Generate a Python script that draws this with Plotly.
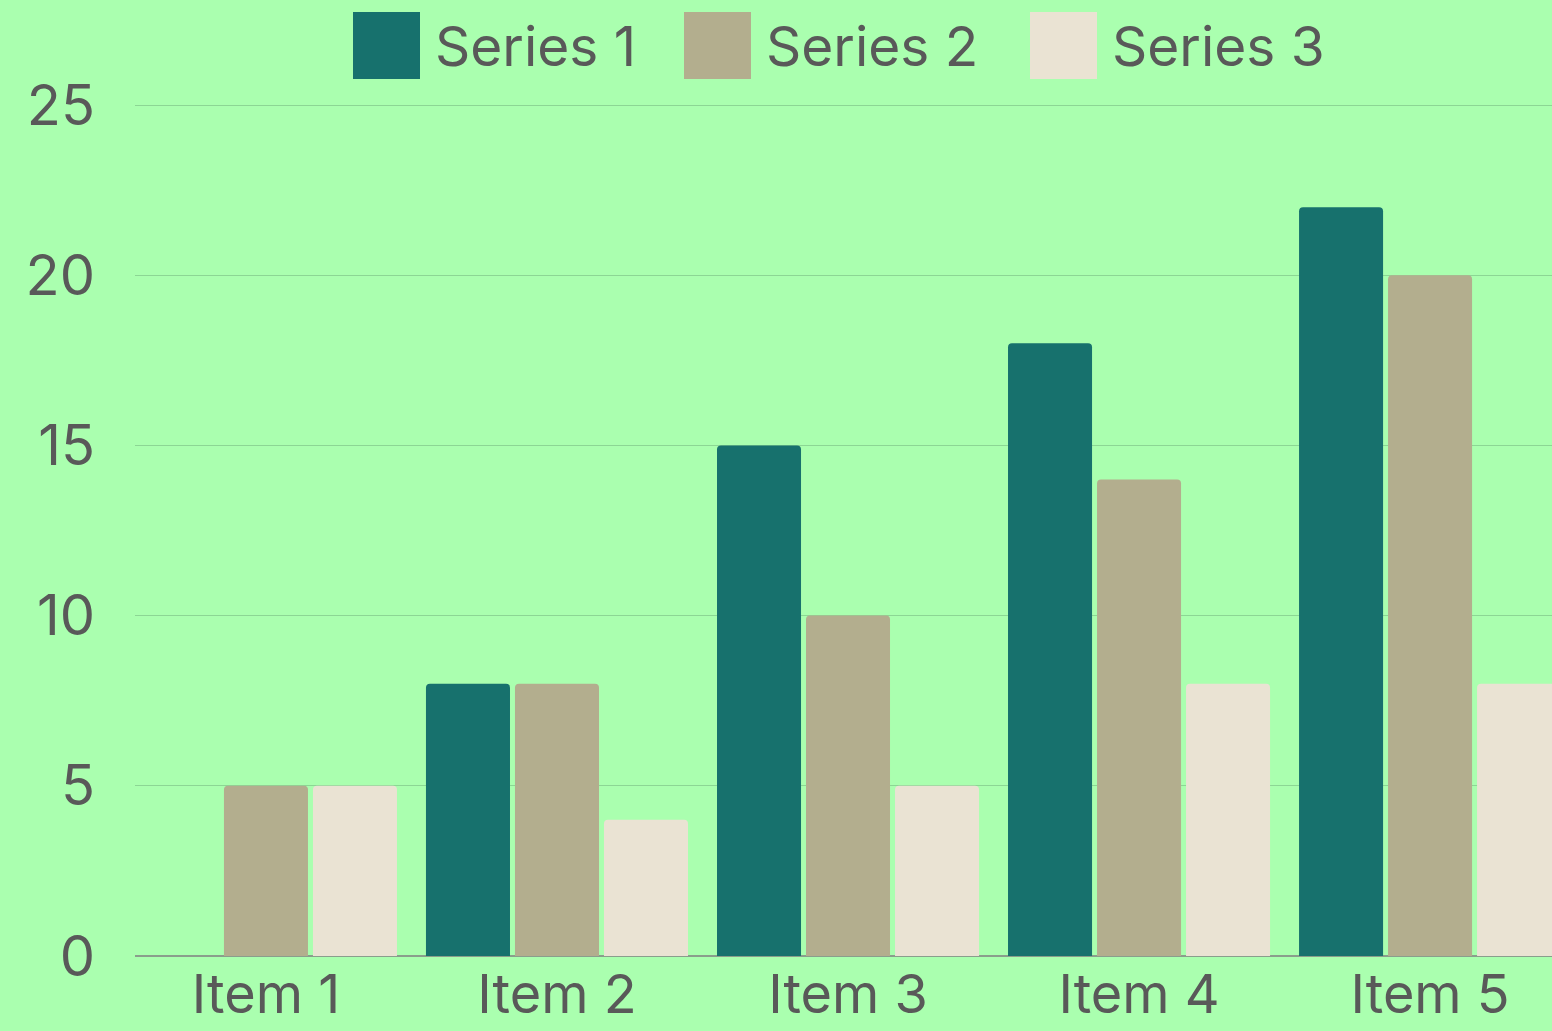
import plotly.graph_objects as go

categories = ["Item 1", "Item 2", "Item 3", "Item 4", "Item 5"]
series_names = ["Series 1", "Series 2", "Series 3"]
series1 = [0, 8, 15, 18, 22]
series2 = [5, 8, 10, 14, 20]
series3 = [5, 4, 5, 8, 8]
colors = ["#17716D", "#B3AE8E", "#EAE3D3"]
y_ticks = [0, 5, 10, 15, 20, 25]

FONT = "Inter"
TXT = "#595959"
BG = "#AAFFAF"
W, H = 1552, 1031
L, R, T, B = 135, 0, 104, 75

fig = go.Figure()
for name, vals, c in zip(series_names, [series1, series2, series3], colors):
    fig.add_trace(go.Bar(x=categories, y=vals, name=name, marker=dict(color=c, line=dict(width=0)),
                         showlegend=False))

# custom legend (large square swatches)
pw, ph = W - L - R, H - T - B
def px_x(p): return (p - L) / pw
def px_y(p): return (H - B - p) / ph
sw_left = [353, 684, 1030]
for name, c, x0 in zip(series_names, colors, sw_left):
    fig.add_shape(type="rect", xref="paper", yref="paper",
                  x0=px_x(x0), x1=px_x(x0 + 67), y0=px_y(79), y1=px_y(12),
                  fillcolor=c, line=dict(width=0), layer="above")
    fig.add_annotation(xref="paper", yref="paper", x=px_x(x0 + 80), y=px_y(46),
                       xanchor="left", yanchor="middle", text=name, showarrow=False,
                       font=dict(family=FONT, size=55, color=TXT))

fig.update_layout(
    width=W, height=H,
    margin=dict(l=L, r=R, t=T, b=B, pad=0, autoexpand=False),
    paper_bgcolor=BG, plot_bgcolor=BG,
    barmode="group", bargap=0.0825, bargroupgap=0.056, barcornerradius=4,
    font=dict(family=FONT, color=TXT, size=55),
    xaxis=dict(range=[-0.45, 4.419], showgrid=False, showline=False, zeroline=False, automargin=False,
               ticks="", ticklabelstandoff=2, tickfont=dict(size=54, color=TXT)),
    yaxis=dict(range=[0, 25.03], tickvals=y_ticks, showgrid=True, gridcolor="#8CD694", gridwidth=1,
               zeroline=True, zerolinecolor="#8A9E8C", zerolinewidth=1.5, showline=False, automargin=False,
               ticks="", ticklabelstandoff=39, tickfont=dict(size=56, color=TXT)),
)

fig.write_html("out.html", config={"displayModeBar": False},
               post_script="document.body.style.margin='0';document.body.style.background='%s';" % BG)
